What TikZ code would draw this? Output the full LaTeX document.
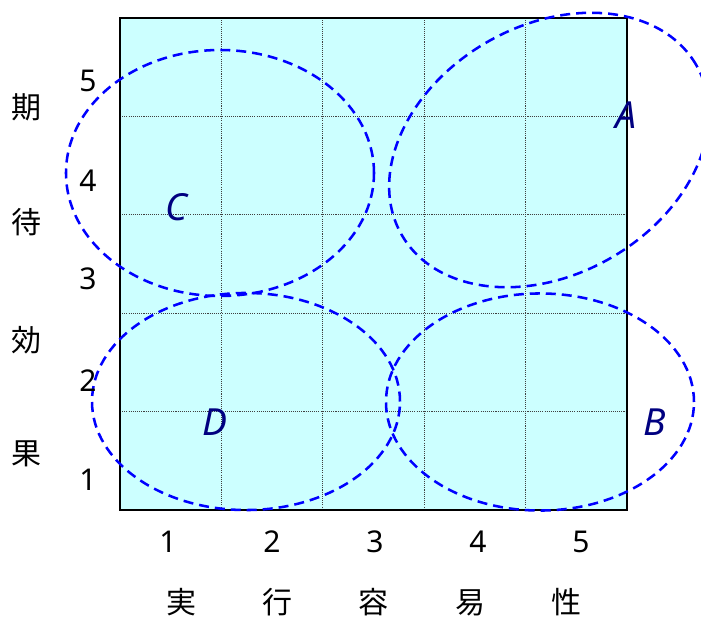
\documentclass[tikz,border=0pt]{standalone}
\usepackage{fontspec}
\setmainfont{Noto Sans}
\newfontfamily\cjk{Noto Sans CJK JP}
\definecolor{bgcyan}{HTML}{CCFFFF}
\definecolor{navy}{HTML}{000080}
\definecolor{ellblue}{HTML}{0000FF}
\tikzset{
  axnum/.style={inner sep=0pt, anchor=base, font=\fontsize{22.5pt}{24pt}\selectfont},
  axcjk/.style={inner sep=0pt, anchor=base, font=\cjk\fontsize{22.5pt}{24pt}\selectfont},
  grplabel/.style={inner sep=0pt, anchor=base, text=navy, font=\itshape\fontsize{28pt}{30pt}\selectfont},
  gridline/.style={draw=black!75, line width=0.5pt, dash pattern=on 0.8pt off 0.8pt},
  frame/.style={draw=black, line width=1.6pt},
  group/.style={draw=ellblue, line width=1.9pt, dash pattern=on 7.5pt off 4.5pt}
}
\begin{document}
\begin{tikzpicture}[x=0.75pt,y=-0.75pt]
\useasboundingbox (0,0) rectangle (701,617);
% field
\fill[bgcyan] (120,18) rectangle (627,510);
% grid
\foreach \gx in {221.4,322.8,424.2,525.6} \draw[gridline] (\gx,18) -- (\gx,510);
\foreach \gy in {116.4,214.8,313.2,411.6} \draw[gridline] (120,\gy) -- (627,\gy);
\draw[frame] (120,18) rectangle (627,510);
% groups
\draw[group] (220,173) ellipse [x radius=115.5pt, y radius=92.25pt];
\draw[group] (246,401.5) ellipse [x radius=115.5pt, y radius=81.4pt];
\draw[group] (540,402) ellipse [x radius=115.5pt, y radius=81.4pt];
\begin{scope}[shift={(549,150)}, rotate=30]
\draw[group] (0,0) ellipse [x radius=127.5pt, y radius=93.3pt];
\end{scope}
% group labels
\node[grplabel] (lA) at (626,129) {A};
\node[grplabel] (lB) at (655,435) {B};
\node[grplabel] (lC) at (176,220) {C};
\node[grplabel] (lD) at (215,435) {D};
% y axis numbers
\node[axnum] (y5) at (88,92) {5};
\node[axnum] (y4) at (88,192) {4};
\node[axnum] (y3) at (88,289) {3};
\node[axnum] (y2) at (88,391) {2};
\node[axnum] (y1) at (88,490) {1};
% y axis title
\node[axcjk] (t1) at (27,118.5) {期};
\node[axcjk] (t2) at (27,233.5) {待};
\node[axcjk] (t3) at (27,351.5) {効};
\node[axcjk] (t4) at (27,464.5) {果};
% x axis numbers
\node[axnum] (x1) at (168,552) {1};
\node[axnum] (x2) at (272,552) {2};
\node[axnum] (x3) at (375,552) {3};
\node[axnum] (x4) at (478,552) {4};
\node[axnum] (x5) at (581,552) {5};
% x axis title
\node[axcjk] (s1) at (181,613) {実};
\node[axcjk] (s2) at (277,613) {行};
\node[axcjk] (s3) at (373,613) {容};
\node[axcjk] (s4) at (470,613) {易};
\node[axcjk] (s5) at (566,613) {性};
\end{tikzpicture}
\end{document}
